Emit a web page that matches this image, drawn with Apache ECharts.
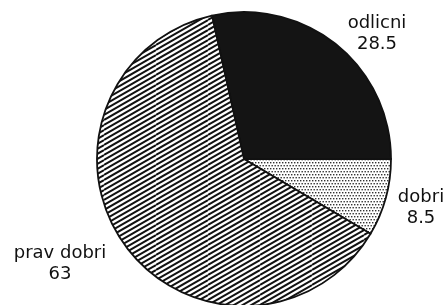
<!DOCTYPE html>
<html>
<head>
<meta charset="utf-8">
<script src="https://cdn.jsdelivr.net/npm/echarts@6/dist/echarts.min.js"></script>
<style>
  html, body { margin: 0; padding: 0; background: #fff; }
  #chart { width: 446px; height: 305px; }
</style>
</head>
<body>
<div id="chart"></div>
<script>
var names = ['odlicni', 'dobri', 'prav dobri'];
var values = [28.5, 8.5, 63];

// label anchors (centre of the two-line label block)
var labelPos = [[377, 34], [421, 208], [60, 264]];

function hatchTile() {
  // diagonal lines rising to the right, about 30 degrees
  var c = document.createElement('canvas');
  c.width = 52; c.height = 30;
  var ctx = c.getContext('2d');
  ctx.fillStyle = '#fff';
  ctx.fillRect(0, 0, 52, 30);
  ctx.strokeStyle = '#111';
  ctx.lineWidth = 2;
  var pv = 30 / 6;
  for (var k = -2; k < 14; k++) {
    var y0 = k * pv;
    ctx.beginPath();
    ctx.moveTo(0, y0);
    ctx.lineTo(52, y0 - 30);
    ctx.stroke();
  }
  return c;
}

function dotTile() {
  var c = document.createElement('canvas');
  c.width = 6; c.height = 6;
  var ctx = c.getContext('2d');
  ctx.fillStyle = '#fff';
  ctx.fillRect(0, 0, 6, 6);
  ctx.fillStyle = '#333';
  ctx.fillRect(0, 0, 1.4, 1.4);
  ctx.fillRect(3, 0, 1.4, 1.4);
  ctx.fillRect(1.5, 3, 1.4, 1.4);
  ctx.fillRect(4.5, 3, 1.4, 1.4);
  return c;
}

var fills = [
  '#141414',
  { image: dotTile(), repeat: 'repeat' },
  { image: hatchTile(), repeat: 'repeat' }
];

var chart = echarts.init(document.getElementById('chart'), null, { renderer: 'canvas' });

var option = {
  backgroundColor: '#ffffff',
  animation: false,
  series: [
    {
      type: 'pie',
      center: [244, 159],
      radius: 147,
      startAngle: 102.6,
      clockwise: true,
      avoidLabelOverlap: false,
      silent: true,
      itemStyle: {
        borderColor: '#111',
        borderWidth: 1.8
      },
      label: {
        show: true,
        position: 'outside',
        formatter: '{b}\n{c}',
        fontFamily: 'DejaVu Sans',
        fontSize: 18,
        lineHeight: 21,
        color: '#111',
        align: 'center'
      },
      labelLine: { show: false },
      labelLayout: function (params) {
        var p = labelPos[params.dataIndex];
        return { x: p[0], y: p[1], align: 'center', verticalAlign: 'middle' };
      },
      data: names.map(function (n, i) {
        return { name: n, value: values[i], itemStyle: { color: fills[i] } };
      })
    }
  ]
};

chart.setOption(option);
</script>
</body>
</html>
